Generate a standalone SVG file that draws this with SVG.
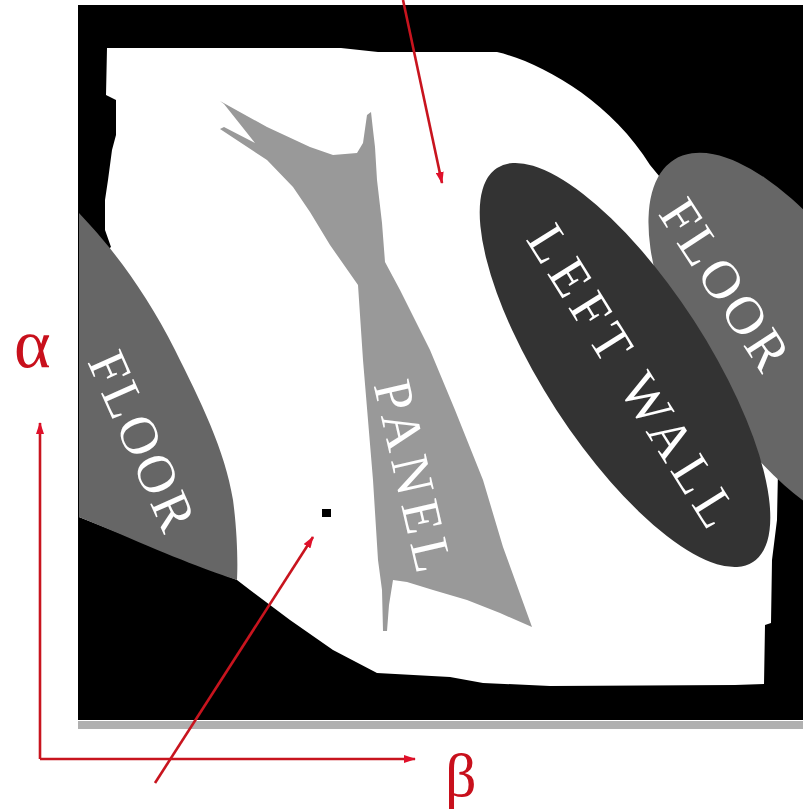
<svg xmlns="http://www.w3.org/2000/svg" width="803" height="811" viewBox="0 0 803 811">
<style>
.lbl{fill:#fff;font-family:"Liberation Serif","Times New Roman",serif;font-size:54px;text-anchor:middle}
.axis{fill:#c8101c;font-family:"Liberation Serif","Times New Roman",serif}
.ln{stroke:#c8141e;stroke-width:2.6;fill:none}
</style>
<defs>
<marker id="ah" viewBox="0 0 12 8" refX="11" refY="4" markerWidth="12" markerHeight="8" markerUnits="userSpaceOnUse" orient="auto">
<path d="M0,0 L12,4 L0,8 Z" fill="#e0102a"/>
</marker>
</defs>
<rect width="803" height="811" fill="#fff"/>
<g id="space">
<rect x="78" y="5" width="725" height="715" fill="#000"/>
<rect x="78" y="721" width="725" height="8" fill="#b0b0b0"/>
<path fill="#fff" d="M107,48 L341,48 L378,52 L497,52 C540,62 610,100 650,165 L720,250 L778,470 L777,520 L772,560 L771,623 L765,625 L764,684 L735,685 L550,686 L483,683 L450,677 L377,673 L333,650 L290,620 L250,590 L237,580 L79,517 L79,262 L95,260 L111,247 L105,230 L105,200 L108,180 L112,150 L116,135 L116,100 L106,95 Z"/>
</g>
<g id="floor-left">
<path fill="#666" d="M79,213 L90,225 C120,258 150,300 175,350 C200,400 225,450 233,500 C237,530 238,560 237,580 C215,573 170,556 120,534 L79,517 Z"/>
<text class="lbl" transform="translate(142,441) rotate(66)" y="18" textLength="190" lengthAdjust="spacing">FLOOR</text>
</g>
<g id="panel">
<path fill="#999" d="M220,101 L267,127 L310,147 L333,155 L357,153 L363,143 L367,115 L371,112 L373,130 L375,147 L377,180 L382,223 L385,262 L400,290 L430,350 L455,410 L483,480 L503,547 L532,627 L500,613 L467,600 L433,590 L407,582 L393,580 L389,605 L387,631 L383,631 L382,590 L378,560 L373,480 L368,420 L363,360 L358,285 L330,245 L310,212 L293,187 L267,160 L220,129 L224,127 L255,143 L224,104 Z"/>
<text class="lbl" transform="translate(413,476) rotate(77)" y="18" textLength="195" lengthAdjust="spacing">PANEL</text>
</g>
<g id="floor-right">
<ellipse cx="788" cy="342" rx="215" ry="95" transform="rotate(58 788 342)" fill="#666"/>
<text class="lbl" transform="translate(724,285) rotate(57)" y="17" font-size="51" textLength="192" lengthAdjust="spacing">FLOOR</text>
</g>
<g id="left-wall">
<ellipse cx="625" cy="365" rx="235" ry="82" transform="rotate(57 625 365)" fill="#333"/>
<text class="lbl" transform="translate(632,376) rotate(58)" y="18" textLength="345" lengthAdjust="spacing">LEFT WALL</text>
</g>
<g id="point">
<rect x="322" y="509" width="9" height="8" fill="#000"/>
</g>
<g id="connectors">
<line class="ln" x1="403" y1="0" x2="442" y2="183" marker-end="url(#ah)"/>
<line class="ln" x1="155" y1="783" x2="313" y2="537" marker-end="url(#ah)"/>
<line class="ln" x1="40" y1="759" x2="40" y2="423" marker-end="url(#ah)" stroke-width="2"/>
<line class="ln" x1="40" y1="759" x2="415" y2="759" marker-end="url(#ah)" stroke-width="2"/>
</g>
<g id="axis-labels">
<text class="axis" x="14" y="367" font-size="70">α</text>
<text class="axis" x="445" y="796" font-size="62">β</text>
</g>
</svg>
